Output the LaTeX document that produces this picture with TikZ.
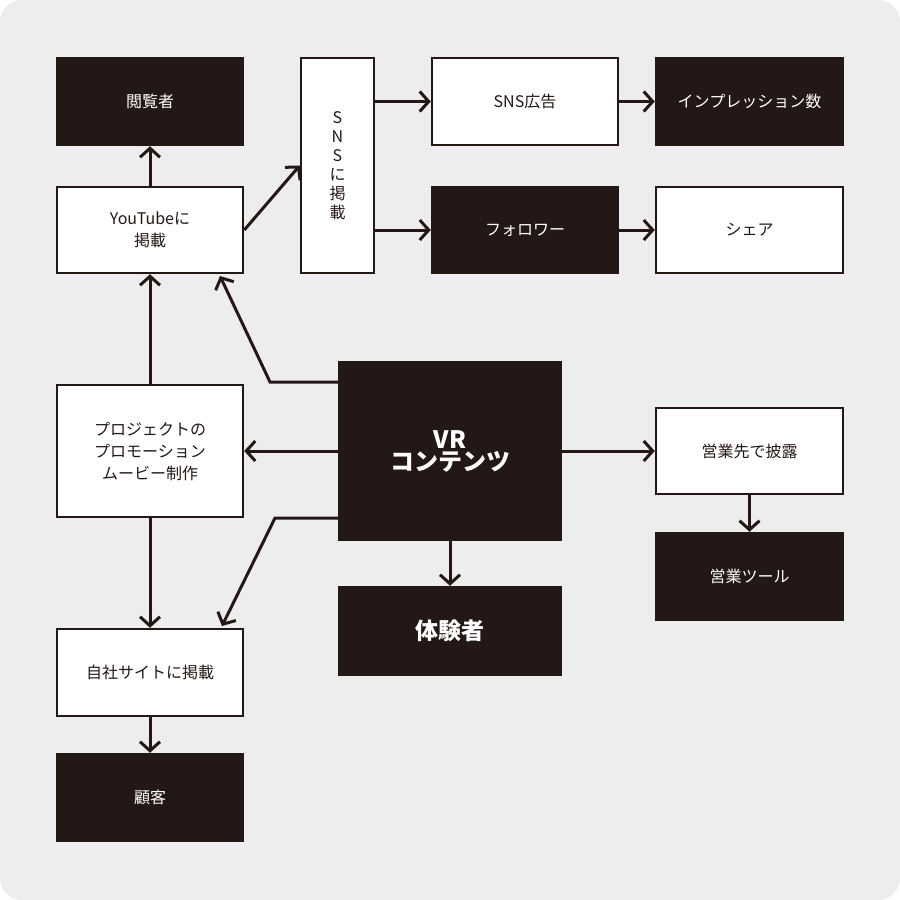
\documentclass[tikz,border=0pt]{standalone}
\usepackage{fontspec}
\setmainfont{Noto Sans CJK JP}
\usetikzlibrary{arrows.meta}
\definecolor{ink}{HTML}{231815}
\definecolor{bg}{HTML}{EEEDED}
\begin{document}
\begin{tikzpicture}[x=1pt,y=-1pt,
  box/.style={draw=ink,line width=2.5pt,inner sep=0pt,align=center,font=\fontsize{16}{22}\selectfont},
  wb/.style={box,fill=white,text=ink},
  bb/.style={box,fill=ink,text=white},
  ar/.style={draw=ink,line width=3pt,-{Straight Barb[length=9pt,width=20pt,line width=3pt]}}]
\useasboundingbox (0,0) rectangle (900,900);
\fill[white] (0,0) rectangle (900,900);
\fill[bg,rounded corners=22pt] (0,0) rectangle (900,900);
\newcommand{\bx}[6]{\node[#1,minimum width=#4-#2,minimum height=#5-#3] (#6) at ({(#2+#4)/2},{(#3+#5)/2})}
\bx{bb}{57}{58}{243}{145}{ets}{閲覧者};
\bx{wb}{57}{187}{243}{273}{yt}{YouTubeに\\掲載};
\bx{wb}{301}{58}{374}{273}{sns}{S\\[-3pt]N\\[-3pt]S\\[-3pt]に\\[-3pt]掲\\[-3pt]載};
\bx{wb}{432}{58}{618}{145}{ad}{SNS広告};
\bx{bb}{656}{58}{843}{145}{imp}{インプレッション数};
\bx{bb}{432}{187}{618}{273}{fol}{フォロワー};
\bx{wb}{656}{187}{843}{273}{sh}{シェア};
\bx{wb}{57}{385}{243}{517}{pm}{プロジェクトの\\プロモーション\\ムービー制作};
\bx{bb}{339}{362}{561}{540}{vr}{\fontsize{24}{34}\selectfont\bfseries VR\\\fontsize{24}{34}\selectfont\bfseries コンテンツ};
\bx{wb}{656}{408}{843}{494}{eg}{営業先で披露};
\bx{bb}{656}{533}{843}{620}{tool}{営業ツール};
\bx{bb}{339}{587}{561}{675}{tk}{\fontsize{23}{30}\selectfont\bfseries 体験者};
\bx{wb}{57}{629}{243}{716}{site}{自社サイトに掲載};
\bx{bb}{57}{754}{243}{841}{ko}{顧客};
\coordinate (v1) at (270,382);
\coordinate (v2) at (275,518);
\draw[ar] (yt.north) -- (ets.south);
\draw[ar] (yt.east) -- (sns.west);
\draw[ar] (sns.east|-ad) -- (ad.west);
\draw[ar] (sns.east|-fol) -- (fol.west);
\draw[ar] (ad.east) -- (imp.west);
\draw[ar] (fol.east) -- (sh.west);
\draw[ar] (pm.north) -- (yt.south);
\draw[ar] (vr.west|-v1) -- (v1) -- (220,276);
\draw[ar] (vr.west|-pm) -- (pm.east);
\draw[ar] (vr.east|-eg) -- (eg.west);
\draw[ar] (eg.south) -- (tool.north);
\draw[ar] (vr.south) -- (tk.north);
\draw[ar] (vr.west|-v2) -- (v2) -- (222,626);
\draw[ar] (pm.south) -- (site.north);
\draw[ar] (site.south) -- (ko.north);
\end{tikzpicture}
\end{document}
